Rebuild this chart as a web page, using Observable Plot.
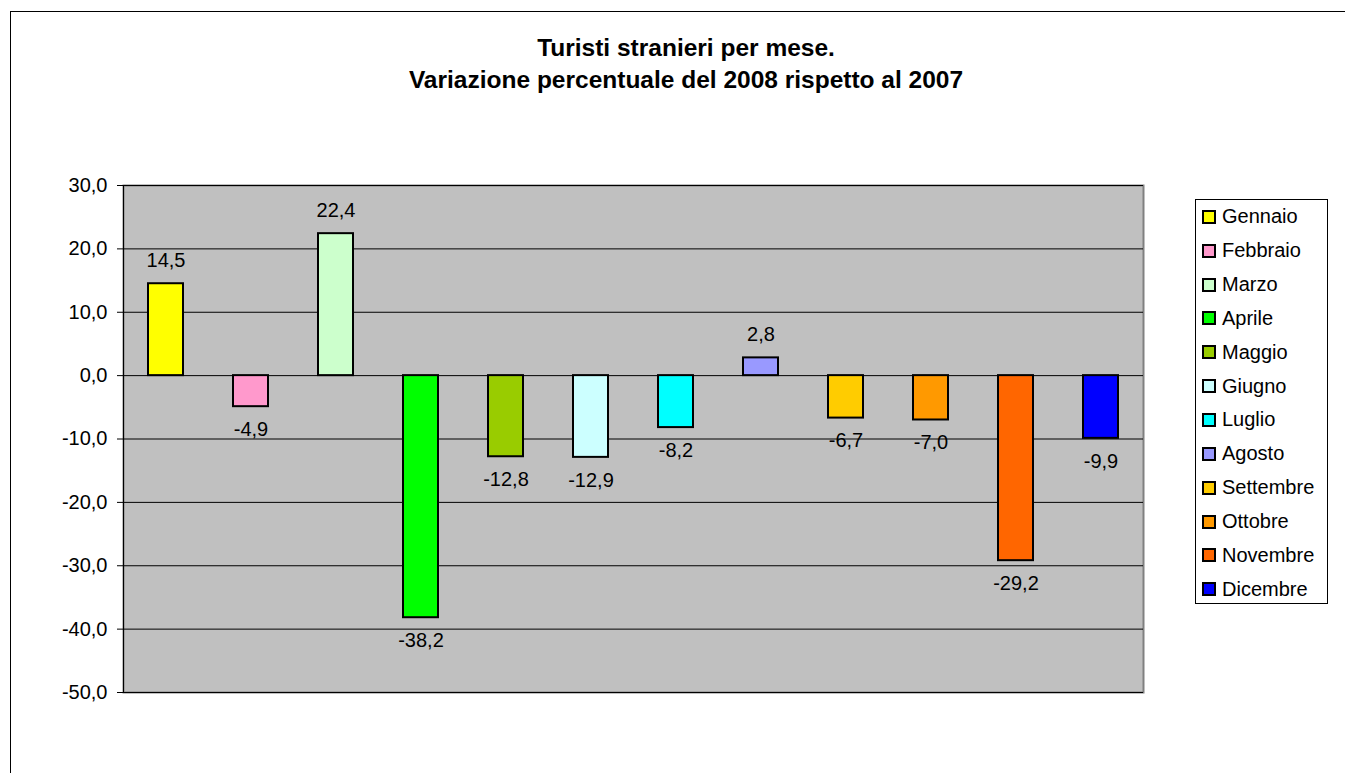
<!DOCTYPE html>
<html>
<head>
<meta charset="utf-8">
<script src="https://cdn.jsdelivr.net/npm/d3@7"></script>
<script src="https://cdn.jsdelivr.net/npm/@observablehq/plot@0.6"></script>
<style>
  html, body { margin: 0; padding: 0; background: #fff; }
  #wrap { position: relative; width: 1345px; height: 773px; overflow: hidden; font-family: Arial, "Liberation Sans", sans-serif; }
  #border { position: absolute; left: 10px; top: 11px; width: 1400px; height: 900px; border: 1px solid #000; box-sizing: border-box; }
  #title { position: absolute; left: 0; width: 1372px; top: 32px; text-align: center; font-weight: bold; font-size: 24.5px; line-height: 32px; color: #000; }
  #chart { position: absolute; left: 0; top: 0; }
  #legend { position: absolute; left: 1195px; top: 199px; width: 133px; height: 405px; border: 1px solid #000; box-sizing: border-box; background: #fff; padding-top: 0px; }
  .item { height: 33.85px; display: flex; align-items: center; font-size: 20px; color: #000; }
  .sw { width: 10px; height: 10px; border: 2px solid #000; margin-left: 6px; margin-right: 6px; flex: none; }
</style>
</head>
<body>
<div id="wrap">
  <div id="border"></div>
  <div id="chart"></div>
  <div id="title">Turisti stranieri per mese.<br>Variazione percentuale del 2008 rispetto al 2007</div>
  <div id="legend"></div>
</div>
<script>
const months = ["Gennaio","Febbraio","Marzo","Aprile","Maggio","Giugno","Luglio","Agosto","Settembre","Ottobre","Novembre","Dicembre"];
const values = [14.5, -4.9, 22.4, -38.2, -12.8, -12.9, -8.2, 2.8, -6.7, -7.0, -29.2, -9.9];
const colors = ["#FFFF00","#FF99CC","#CCFFCC","#00FF00","#99CC00","#CCFFFF","#00FFFF","#9999FF","#FFCC00","#FF9900","#FF6600","#0000FF"];
const yTicks = [-50, -40, -30, -20, -10, 0, 10, 20, 30];

const fmt = v => v.toFixed(1).replace(".", ",");
const data = months.map((m, i) => ({month: m, value: values[i]}));

const chart = Plot.plot({
  width: 1345,
  height: 773,
  marginLeft: 123,
  marginRight: 202,
  marginTop: 185,
  marginBottom: 81,
  style: {fontFamily: "Arial, 'Liberation Sans', sans-serif", fontSize: "20px", background: "transparent", color: "#000"},
  x: {domain: months, paddingInner: 0.59, paddingOuter: 0.295, axis: null},
  y: {domain: [-50, 30], label: null},
  color: {domain: months, range: colors},
  marks: [
    Plot.frame({fill: "#C0C0C0", stroke: "#808080", strokeWidth: 2}),
    Plot.gridY(yTicks, {stroke: "#000", strokeOpacity: 1, strokeWidth: 1}),
    Plot.frame({anchor: "left", stroke: "#000", strokeWidth: 1}),
    Plot.axisY(yTicks, {tickFormat: fmt, tickSize: 6, tickPadding: 10, label: null, fontSize: 20, stroke: "#000"}),
    Plot.barY(data, {x: "month", y: "value", fill: "month", stroke: "#000", strokeWidth: 2}),
    Plot.text(data.filter(d => d.value >= 0), {x: "month", y: "value", text: d => fmt(d.value), dy: -23, fontSize: 20, fill: "#000"}),
    Plot.text(data.filter(d => d.value < 0), {x: "month", y: "value", text: d => fmt(d.value), dy: 23, fontSize: 20, fill: "#000"})
  ]
});
document.getElementById("chart").appendChild(chart);

const legend = document.getElementById("legend");
months.forEach((m, i) => {
  const it = document.createElement("div");
  it.className = "item";
  const sw = document.createElement("div");
  sw.className = "sw";
  sw.style.background = colors[i];
  const t = document.createElement("span");
  t.textContent = m;
  it.appendChild(sw);
  it.appendChild(t);
  legend.appendChild(it);
});
</script>
</body>
</html>
